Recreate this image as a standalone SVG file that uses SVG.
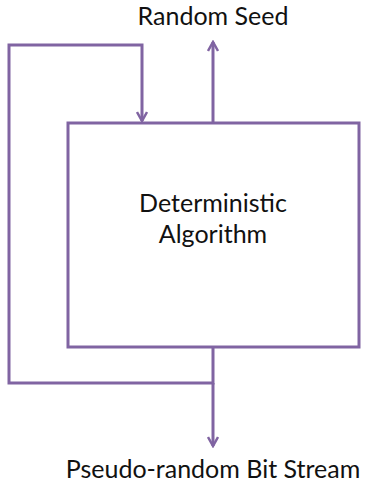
<svg xmlns="http://www.w3.org/2000/svg" width="366" height="483" viewBox="0 0 366 483">
<style>
.ln{fill:none;stroke:#8064A2;stroke-width:3}
.t{font-family:Lato,"Open Sans",sans-serif;font-size:25px;fill:#111;text-anchor:middle}
</style>
<defs>
<marker id="ah" viewBox="0 0 12 12" refX="10" refY="6" markerWidth="12" markerHeight="12" markerUnits="userSpaceOnUse" orient="auto">
<path d="M1,1 L10,6 L1,11" fill="none" stroke="#8064A2" stroke-width="2.5"/>
</marker>
</defs>
<rect width="366" height="483" fill="#fff"/>
<g id="algorithm">
<rect class="ln" x="68" y="123" width="291" height="224"/>
<text class="t" x="213" y="212">Deterministic</text>
<text class="t" x="213" y="243">Algorithm</text>
</g>
<g id="seed"><text class="t" x="213" y="25">Random Seed</text></g>
<g id="stream"><text class="t" x="213" y="478">Pseudo-random Bit Stream</text></g>
<g id="connectors">
<path class="ln" d="M213,123 V42" marker-end="url(#ah)"/>
<path class="ln" d="M213,347 V383 H9 V45 H142 V121" marker-end="url(#ah)"/>
<path class="ln" d="M213,383 V446" marker-end="url(#ah)"/>
</g>
</svg>
